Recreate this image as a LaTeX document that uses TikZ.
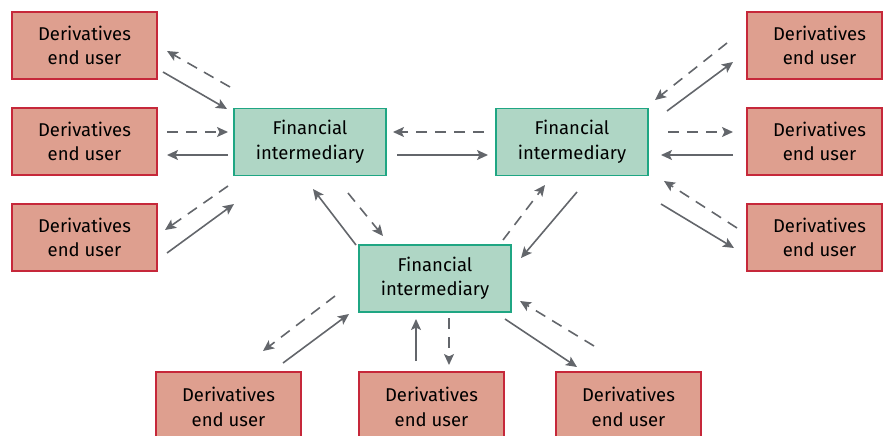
\documentclass[tikz,border=0pt]{standalone}
\usepackage{fontspec}
\setmainfont{Fira Sans}
\usetikzlibrary{arrows.meta}
\definecolor{eufill}{HTML}{DE9F8F}
\definecolor{eudraw}{HTML}{C6283A}
\definecolor{fifill}{HTML}{AFD6C5}
\definecolor{fidraw}{HTML}{1FA683}
\definecolor{arrgray}{HTML}{63666B}
\tikzset{
  box/.style={rectangle, line width=1.6pt, align=center, inner sep=0pt,
    font=\fontsize{18.5}{24.5}\selectfont, text=black},
  eu/.style={box, fill=eufill, draw=eudraw, minimum width=145pt, minimum height=67pt},
  fi/.style={box, fill=fifill, draw=fidraw, minimum width=152pt, minimum height=67pt},
  eutext/.style={align=center, inner sep=0pt, font=\fontsize{18.5}{24.5}\selectfont, text=black},
  arr/.style={draw=arrgray, line width=1.6pt, -{Stealth[length=11pt,width=10pt,inset=2.5pt]}},
  solidarr/.style={arr},
  dasharr/.style={arr, dash pattern=on 11pt off 8pt},
}
\begin{document}
\begin{tikzpicture}[x=1pt,y=-1pt]
\useasboundingbox (0,0) rectangle (883,436);
% end users left
\node[eu] (l1) at (84.5,45.5) {Derivatives\\end user};
\node[eu] (l2) at (84.5,141.5) {Derivatives\\end user};
\node[eu] (l3) at (84.5,237.5) {Derivatives\\end user};
% end users right (cut by the page edge)
\node[eu, minimum width=135pt] (r1) at (814.5,45.5) {};
\node[eutext] (r1t) at ([xshift=5pt]r1.center) {Derivatives\\end user};
\node[eu, minimum width=135pt] (r2) at (814.5,141.5) {};
\node[eutext] (r2t) at ([xshift=5pt]r2.center) {Derivatives\\end user};
\node[eu, minimum width=135pt] (r3) at (814.5,237.5) {};
\node[eutext] (r3t) at ([xshift=5pt]r3.center) {Derivatives\\end user};
% end users bottom
\node[eu] (b1) at (228.5,405.5) {};
\node[eutext] (b1t) at (228.5,407) {Derivatives\\end user};
\node[eu] (b2) at (431.5,405.5) {};
\node[eutext] (b2t) at (431.5,407) {Derivatives\\end user};
\node[eu] (b3) at (628.5,405.5) {};
\node[eutext] (b3t) at (628.5,407) {Derivatives\\end user};
% intermediaries
\node[fi] (fl) at (310,142) {Financial\\intermediary};
\node[fi] (fr) at (572,142) {Financial\\intermediary};
\node[fi] (fb) at (435,278.5) {Financial\\intermediary};
% connectors
\foreach \n/\xa/\ya/\xb/\yb/\st in {
  a1/230/87/167/51/dasharr,
  a2/163/72/227/109/solidarr,
  a3/167/132/228/132/dasharr,
  a4/228/155/167/155/solidarr,
  a5/228/186/165/230/dasharr,
  a6/167/253/234/204/solidarr,
  a7/356/245/313/189/solidarr,
  a8/348/193/383/236/dasharr,
  a9/484/132/393/132/dasharr,
  a10/397/155/488/155/solidarr,
  a11/727/43/655/100/dasharr,
  a12/667/111/733/62/solidarr,
  a13/668/132/733/132/dasharr,
  a14/733/155/661/155/solidarr,
  a15/737/228/664/181/dasharr,
  a16/661/204/734/248/solidarr,
  a17/503/240/545/185/dasharr,
  a18/577/192/521/258/solidarr,
  a19/335/296/263/351/dasharr,
  a20/283/363/349/314/solidarr,
  a21/416/361/416/319/solidarr,
  a22/449/318/449/365/dasharr,
  a23/505/319/577/367/solidarr,
  a24/594/346/520/301/dasharr}
{
  \coordinate (\n s) at (\xa,\ya);
  \coordinate (\n e) at (\xb,\yb);
  \draw[\st] (\n s) -- (\n e);
}
\end{tikzpicture}
\end{document}
